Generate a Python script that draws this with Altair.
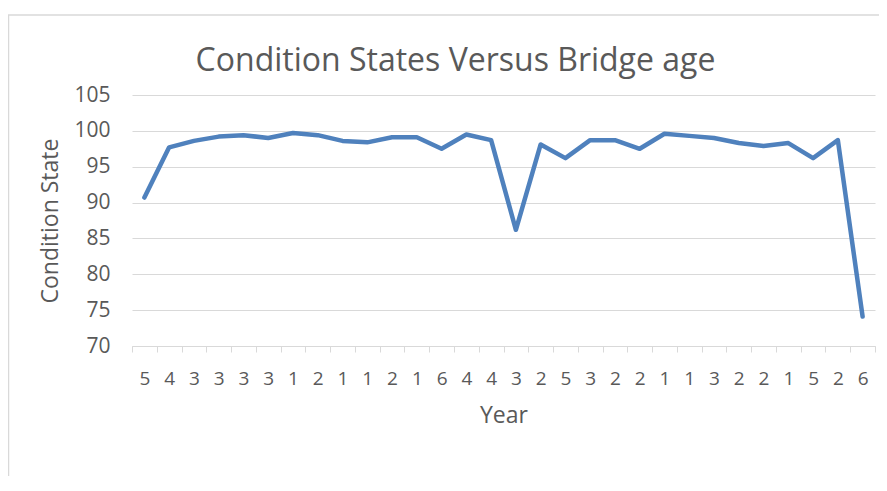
import altair as alt
import pandas as pd

year_labels = ["5", "4", "3", "3", "3", "3", "1", "2", "1", "1", "2", "1", "6", "4", "4",
               "3", "2", "5", "3", "2", "2", "1", "1", "3", "2", "2", "1", "5", "2", "6"]
condition = [90.7, 97.7, 98.6, 99.2, 99.4, 99.0, 99.7, 99.4, 98.6, 98.4, 99.1, 99.1, 97.5, 99.5, 98.7,
             86.2, 98.1, 96.2, 98.7, 98.7, 97.5, 99.6, 99.3, 99.0, 98.3, 97.9, 98.3, 96.2, 98.7, 74.1]
y_ticks = [70, 75, 80, 85, 90, 95, 100, 105]

df = pd.DataFrame({
    "idx": list(range(len(year_labels))),
    "label": year_labels,
    "value": condition,
})

label_array = "[" + ",".join("'" + s + "'" for s in year_labels) + "]"
grey = "#d9d9d9"
text_col = "#595959"
font = "Open Sans"

line = alt.Chart(df).mark_line(color="#4f81bd", strokeWidth=4.5, strokeJoin="round", strokeCap="round").encode(
    x=alt.X("idx:O",
            scale=alt.Scale(paddingInner=0, paddingOuter=0),
            axis=alt.Axis(title="Year", labelExpr=label_array + "[datum.value]", labelAngle=0,
                          tickBand="extent", tickSize=6, tickColor=grey, domainColor=grey,
                          labelPadding=17, titlePadding=16, grid=False,
                          labelFontSize=19, titleFontSize=23)),
    y=alt.Y("value:Q",
            scale=alt.Scale(domain=[70, 105], nice=False, zero=False),
            axis=alt.Axis(title="Condition State", values=y_ticks, ticks=False, domain=False,
                          gridColor=grey, labelPadding=22, titlePadding=11,
                          labelFontSize=21, titleFontSize=23)),
)

border = alt.Chart(pd.DataFrame({"a": [0]})).mark_rect(fill=None, stroke=grey, strokeWidth=1.5).encode(
    x=alt.value(-123.5), x2=alt.value(800), y=alt.value(-80), y2=alt.value(450)
)

chart = alt.layer(border, line).properties(
    width=743,
    height=251,
    padding={"left": 124, "top": 87, "right": 4, "bottom": 130},
    autosize=alt.AutoSizeParams(type="none"),
    title=alt.Title("Condition States Versus Bridge age", fontSize=32, font=font, fontWeight="normal",
                    color=text_col, anchor="middle", dx=-48, offset=0, dy=64),
).configure_view(stroke=None).configure_axis(
    labelFont=font, titleFont=font, labelColor=text_col, titleColor=text_col, titleFontWeight="normal"
)

chart.save("out.html", embed_options={"renderer": "svg", "actions": False})
